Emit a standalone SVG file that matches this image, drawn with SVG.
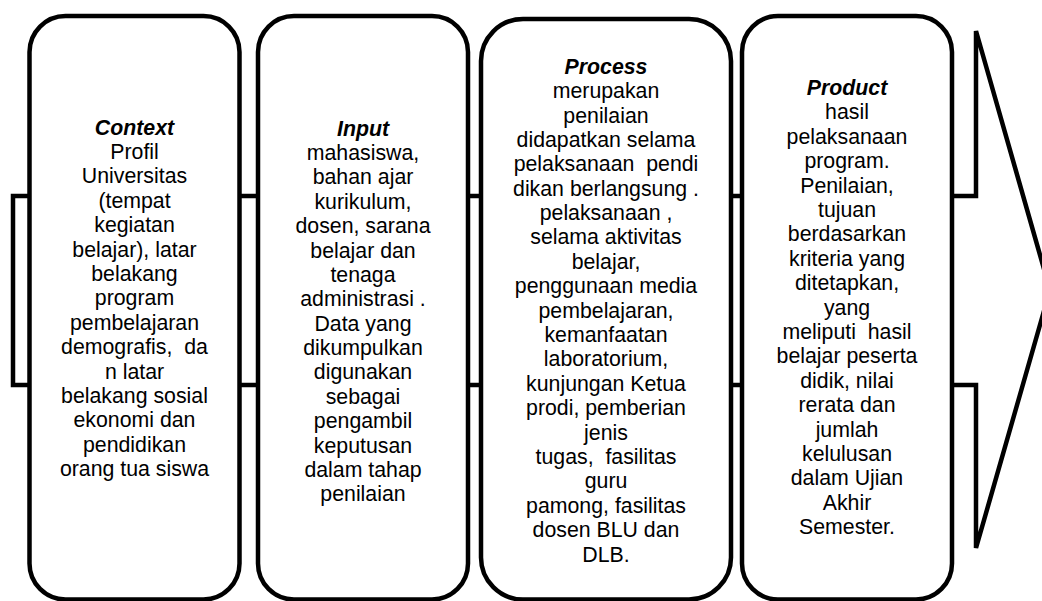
<svg xmlns="http://www.w3.org/2000/svg" width="1042" height="601" viewBox="0 0 1042 601">
<style>
.shape{fill:#fff;stroke:#000;stroke-width:4.5;stroke-linejoin:miter}
.box{fill:#fff;stroke:#000;stroke-width:4.5}
.t{font-family:"Liberation Sans",Arial,sans-serif;font-size:21.3px;fill:#000;text-anchor:middle}
.h{font-weight:bold;font-style:italic}
</style>
<rect width="1042" height="601" fill="#fff"/>
<g id="connectors">
<path class="shape" d="M13,196 H976 V31 L1050,290 L976,548 V385 H13 Z"/>
</g>
<g id="context">
<rect class="box" x="29.5" y="16" width="210" height="583.5" rx="36"/>
<text class="t" y="134.6"><tspan x="134.5" class="h">Context</tspan><tspan x="134.5" dy="24.4">Profil</tspan><tspan x="134.5" dy="24.4">Universitas</tspan><tspan x="134.5" dy="24.4">(tempat</tspan><tspan x="134.5" dy="24.4">kegiatan</tspan><tspan x="134.5" dy="24.4">belajar), latar</tspan><tspan x="134.5" dy="24.4">belakang</tspan><tspan x="134.5" dy="24.4">program</tspan><tspan x="134.5" dy="24.4">pembelajaran</tspan><tspan x="134.5" dy="24.4">demografis,&#160; da</tspan><tspan x="134.5" dy="24.4">n latar</tspan><tspan x="134.5" dy="24.4">belakang sosial</tspan><tspan x="134.5" dy="24.4">ekonomi dan</tspan><tspan x="134.5" dy="24.4">pendidikan</tspan><tspan x="134.5" dy="24.4">orang tua siswa</tspan></text>
</g>
<g id="input">
<rect class="box" x="258" y="16" width="210" height="583.5" rx="36"/>
<text class="t" y="135.5"><tspan x="363" class="h">Input</tspan><tspan x="363" dy="24.4">mahasiswa,</tspan><tspan x="363" dy="24.4">bahan ajar</tspan><tspan x="363" dy="24.4">kurikulum,</tspan><tspan x="363" dy="24.4">dosen, sarana</tspan><tspan x="363" dy="24.4">belajar dan</tspan><tspan x="363" dy="24.4">tenaga</tspan><tspan x="363" dy="24.4">administrasi .</tspan><tspan x="363" dy="24.4">Data yang</tspan><tspan x="363" dy="24.4">dikumpulkan</tspan><tspan x="363" dy="24.4">digunakan</tspan><tspan x="363" dy="24.4">sebagai</tspan><tspan x="363" dy="24.4">pengambil</tspan><tspan x="363" dy="24.4">keputusan</tspan><tspan x="363" dy="24.4">dalam tahap</tspan><tspan x="363" dy="24.4">penilaian</tspan></text>
</g>
<g id="process">
<rect class="box" x="481" y="19" width="250" height="580.5" rx="42"/>
<text class="t" y="73.7"><tspan x="606" class="h">Process</tspan><tspan x="606" dy="24.4">merupakan</tspan><tspan x="606" dy="24.4">penilaian</tspan><tspan x="606" dy="24.4">didapatkan selama</tspan><tspan x="606" dy="24.4">pelaksanaan&#160; pendi</tspan><tspan x="606" dy="24.4">dikan berlangsung .</tspan><tspan x="606" dy="24.4">pelaksanaan ,</tspan><tspan x="606" dy="24.4">selama aktivitas</tspan><tspan x="606" dy="24.4">belajar,</tspan><tspan x="606" dy="24.4">penggunaan media</tspan><tspan x="606" dy="24.4">pembelajaran,</tspan><tspan x="606" dy="24.4">kemanfaatan</tspan><tspan x="606" dy="24.4">laboratorium,</tspan><tspan x="606" dy="24.4">kunjungan Ketua</tspan><tspan x="606" dy="24.4">prodi, pemberian</tspan><tspan x="606" dy="24.4">jenis</tspan><tspan x="606" dy="24.4">tugas,&#160; fasilitas</tspan><tspan x="606" dy="24.4">guru</tspan><tspan x="606" dy="24.4">pamong, fasilitas</tspan><tspan x="606" dy="24.4">dosen BLU dan</tspan><tspan x="606" dy="24.4">DLB.</tspan></text>
</g>
<g id="product">
<rect class="box" x="742" y="16" width="210" height="583.5" rx="36"/>
<text class="t" y="95"><tspan x="847" class="h">Product</tspan><tspan x="847" dy="24.4">hasil</tspan><tspan x="847" dy="24.4">pelaksanaan</tspan><tspan x="847" dy="24.4">program.</tspan><tspan x="847" dy="24.4">Penilaian,</tspan><tspan x="847" dy="24.4">tujuan</tspan><tspan x="847" dy="24.4">berdasarkan</tspan><tspan x="847" dy="24.4">kriteria yang</tspan><tspan x="847" dy="24.4">ditetapkan,</tspan><tspan x="847" dy="24.4">yang</tspan><tspan x="847" dy="24.4">meliputi&#160; hasil</tspan><tspan x="847" dy="24.4">belajar peserta</tspan><tspan x="847" dy="24.4">didik, nilai</tspan><tspan x="847" dy="24.4">rerata dan</tspan><tspan x="847" dy="24.4">jumlah</tspan><tspan x="847" dy="24.4">kelulusan</tspan><tspan x="847" dy="24.4">dalam Ujian</tspan><tspan x="847" dy="24.4">Akhir</tspan><tspan x="847" dy="24.4">Semester.</tspan></text>
</g>
</svg>
